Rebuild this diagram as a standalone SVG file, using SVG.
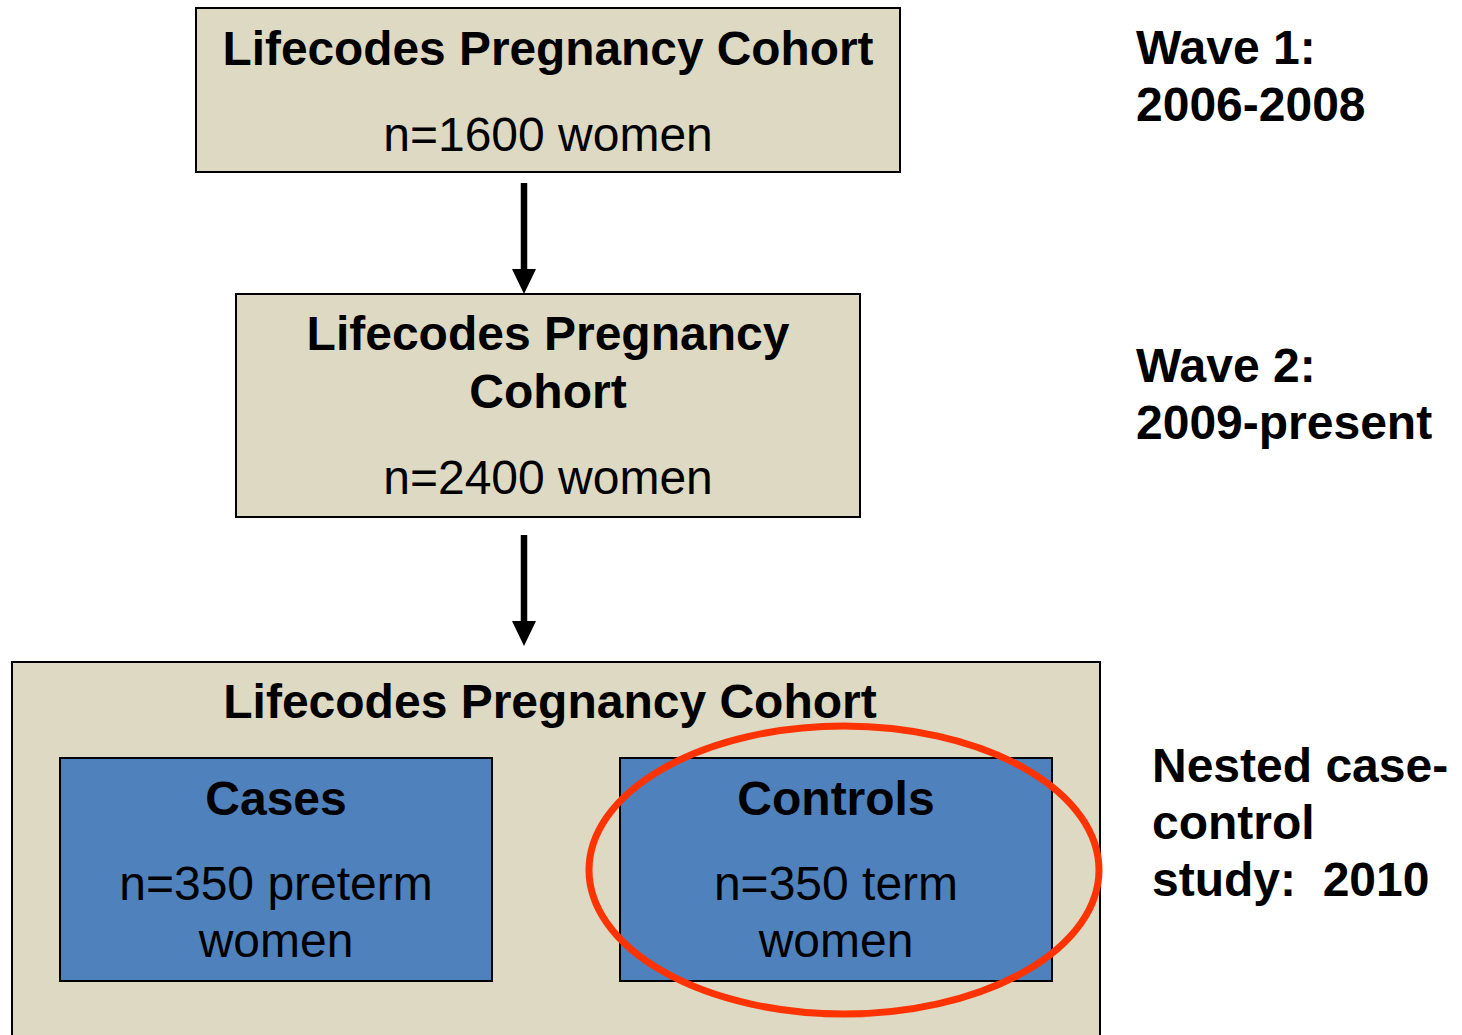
<svg xmlns="http://www.w3.org/2000/svg" width="1462" height="1035" viewBox="0 0 1462 1035">
<style>
.tan{fill:#DDD9C3;stroke:#000;stroke-width:2}
.blue{fill:#4F81BD;stroke:#000;stroke-width:2}
text{font-family:"Liberation Sans",Arial,sans-serif;font-size:48px;fill:#000;text-anchor:middle}
.b{font-weight:bold}
.side{font-weight:bold;font-size:48px;text-anchor:start}
.conn{stroke:#000;stroke-width:6.5;fill:none}
</style>
<defs>
<marker id="ah" viewBox="0 0 25 24" refX="1" refY="12" markerWidth="25" markerHeight="24" markerUnits="userSpaceOnUse" orient="auto">
<path d="M0,0 L25,12 L0,24 z" fill="#000"/>
</marker>
</defs>
<rect width="1462" height="1035" fill="#fff"/>
<g id="wave1">
<rect class="tan" x="196" y="8" width="704" height="164"/>
<text class="b" x="548" y="65" textLength="651" lengthAdjust="spacingAndGlyphs">Lifecodes Pregnancy Cohort</text>
<text x="548" y="151">n=1600 women</text>
</g>
<g id="wave2">
<rect class="tan" x="236" y="294" width="624" height="223"/>
<text class="b" x="548" y="350">Lifecodes Pregnancy</text>
<text class="b" x="548" y="408">Cohort</text>
<text x="548" y="494">n=2400 women</text>
</g>
<g id="nested">
<rect class="tan" x="12" y="662" width="1088" height="380"/>
<text class="b" x="550" y="718">Lifecodes Pregnancy Cohort</text>
</g>
<g id="cases">
<rect class="blue" x="60" y="758" width="432" height="223"/>
<text class="b" x="276" y="815">Cases</text>
<text x="276" y="900">n=350 preterm</text>
<text x="276" y="957">women</text>
</g>
<g id="controls">
<rect class="blue" x="620" y="758" width="432" height="223"/>
<text class="b" x="836" y="815">Controls</text>
<text x="836" y="900">n=350 term</text>
<text x="836" y="957">women</text>
</g>
<g id="highlight">
<ellipse cx="844" cy="870" rx="255" ry="144" fill="none" stroke="#FF3300" stroke-width="7"/>
</g>
<g id="labels">
<text class="side" x="1136" y="64">Wave 1:</text>
<text class="side" x="1136" y="121">2006-2008</text>
<text class="side" x="1136" y="382">Wave 2:</text>
<text class="side" x="1136" y="439">2009-present</text>
<text class="side" x="1152" y="782">Nested case-</text>
<text class="side" x="1152" y="839">control</text>
<text class="side" x="1152" y="896" xml:space="preserve">study:  2010</text>
</g>
<g id="connectors">
<line class="conn" x1="524" y1="183" x2="524" y2="270" marker-end="url(#ah)"/>
<line class="conn" x1="524" y1="535" x2="524" y2="622" marker-end="url(#ah)"/>
</g>
</svg>
